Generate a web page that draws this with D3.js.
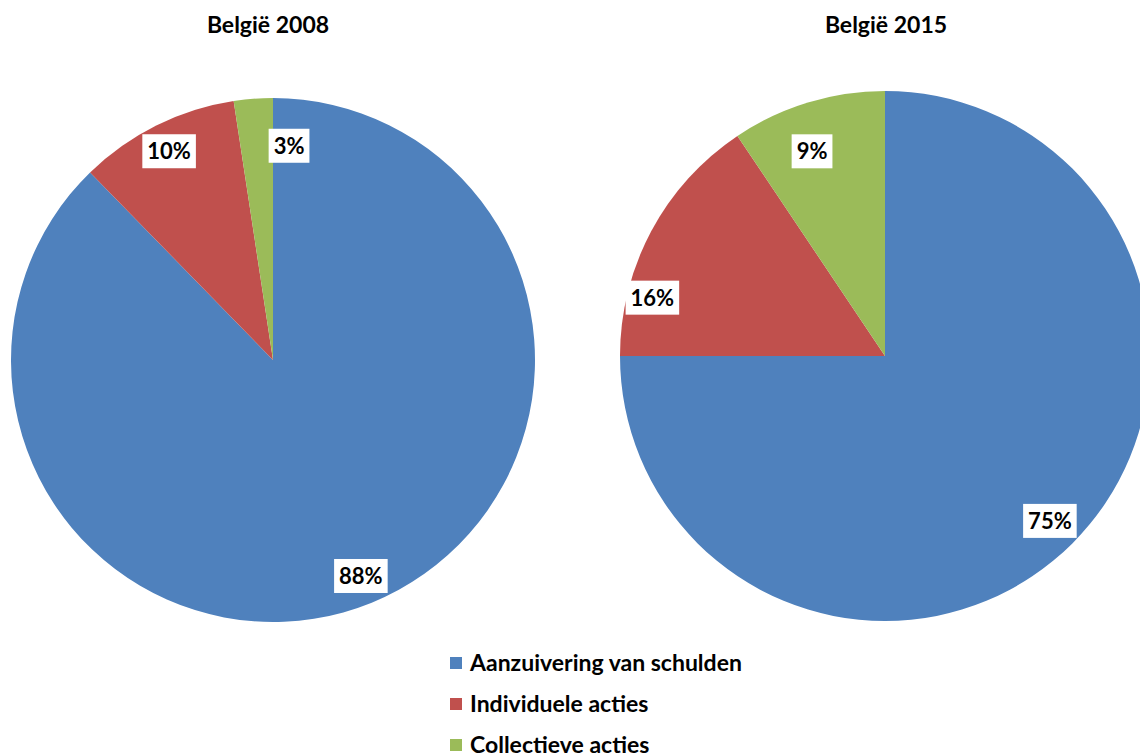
<!DOCTYPE html>
<meta charset="utf-8">
<head>
<title>België 2008 / 2015</title>
</head>
<style>
body { margin: 0; background: #fff; }
text { font-family: Lato, "Open Sans", sans-serif; font-weight: bold; fill: #000; }
</style>
<body>
<svg id="chart" width="1140" height="753"></svg>
<script src="https://d3js.org/d3.v7.min.js"></script>
<script>
// data (shares, clockwise from 12 o'clock)
var categories = ['Aanzuivering van schulden', 'Individuele acties', 'Collectieve acties'];
var colors = ['#4F81BD', '#C0504D', '#9BBB59'];
var years = ['België 2008', 'België 2015'];
var values2008 = [87.7, 9.9, 2.4];
var values2015 = [75.0, 15.6, 9.4];
var labels2008 = ['88%', '10%', '3%'];
var labels2015 = ['75%', '16%', '9%'];

var svg = d3.select('#chart');

// label placement: radius as part of r, angle shift in degrees (excel "best fit" look)
var pies = [
  {title: years[0], values: values2008, labels: labels2008, cx: 273, cy: 360, r: 262, tx: 268,
   lr: [0.89, 0.89, 0.82], la: [0, 0, 8.6]},
  {title: years[1], values: values2015, labels: labels2015, cx: 885, cy: 356, r: 265, tx: 886,
   lr: [0.88, 0.905, 0.82], la: [0, -14, -2.7]}
];

var pie = d3.pie().sort(null).value(function(d) { return d; });

pies.forEach(function(p) {
  var g = svg.append('g').attr('transform', 'translate(' + p.cx + ',' + p.cy + ')');
  var arc = d3.arc().innerRadius(0).outerRadius(p.r);
  var arcs = pie(p.values);

  g.selectAll('path')
    .data(arcs)
    .enter().append('path')
    .attr('d', arc)
    .style('fill', function(d, i) { return colors[i]; });

  // data labels in white boxes
  var lab = g.selectAll('g.lab')
    .data(arcs)
    .enter().append('g')
    .attr('class', 'lab')
    .attr('transform', function(d, i) {
      var a = (d.startAngle + d.endAngle) / 2 + p.la[i] * Math.PI / 180;
      var rr = p.r * p.lr[i];
      return 'translate(' + (Math.sin(a) * rr) + ',' + (-Math.cos(a) * rr) + ')';
    });

  lab.append('rect');
  lab.append('text')
    .attr('text-anchor', 'middle')
    .attr('dy', '0.36em')
    .style('font-size', '22px')
    .text(function(d, i) { return p.labels[i]; });

  lab.each(function() {
    var bb = d3.select(this).select('text').node().getBBox();
    d3.select(this).select('rect')
      .attr('x', bb.x - 5).attr('y', -17)
      .attr('width', bb.width + 10).attr('height', 34)
      .style('fill', '#fff');
  });

  svg.append('text')
    .attr('x', p.tx).attr('y', 33)
    .attr('text-anchor', 'middle')
    .style('font-size', '23px')
    .text(p.title);
});

// legend
var legend = svg.append('g').attr('transform', 'translate(450,663)');
var rows = legend.selectAll('g')
  .data(categories)
  .enter().append('g')
  .attr('transform', function(d, i) { return 'translate(0,' + (i * 41) + ')'; });

rows.append('rect')
  .attr('x', 0).attr('y', -6)
  .attr('width', 12).attr('height', 12)
  .style('fill', function(d, i) { return colors[i]; });

rows.append('text')
  .attr('x', 20).attr('dy', '0.35em')
  .style('font-size', '23px')
  .text(function(d) { return d; });
</script>
</body>
</html>
